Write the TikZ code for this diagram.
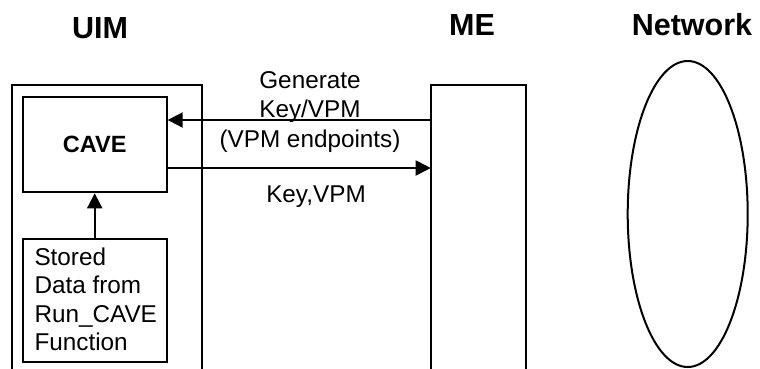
\documentclass[tikz,border=0pt]{standalone}
\usepackage{fontspec}
\setmainfont{Liberation Sans}
\usetikzlibrary{arrows.meta}
\begin{document}
\begin{tikzpicture}[x=1pt,y=-1pt,
  box/.style={draw,line width=2pt,inner sep=0pt},
  lbl/.style={font=\fontsize{24.3}{29.5}\selectfont,inner sep=0pt},
  ttl/.style={font=\fontsize{30.5}{34}\selectfont\bfseries,inner sep=0pt,anchor=base},
  arr/.style={line width=2pt,-{Triangle[length=15pt,width=15pt]}}]
\useasboundingbox (0,0) rectangle (760,368);
\begin{scope}
\clip (0,0) rectangle (760,368);
% titles
\node[ttl] (tuim) at (100,38) {UIM};
\node[ttl] (tme) at (472,35) {ME};
\node[ttl] (tnet) at (692,35) {Network};
% outer boxes (open at bottom)
\draw[line width=2pt] (11.7,380) -- (11.7,85) -- (202,85) -- (202,380);
\draw[line width=2pt] (430.7,380) -- (430.7,85) -- (526,85) -- (526,380);
\coordinate (meA) at (430.7,120);
\coordinate (meB) at (430.7,168);
% CAVE
\node[box,minimum width=144pt,minimum height=95.6pt,font=\fontsize{23.5}{28}\selectfont\bfseries] (cave) at (94.7,144.5) {CAVE};
% stored box
\node[box,minimum width=144pt,minimum height=122.7pt] (stored) at (94.7,300.4) {};
\node[lbl,anchor=north west,align=left,font=\fontsize{24.3}{28.4}\selectfont] (storedtxt) at (34.3,247.6) {Stored\\Data from\\Run\_CAVE\\Function};
% network ellipse
\draw[line width=2pt] (687.7,214) ellipse [x radius=60, y radius=153];
% arrows
\draw[arr] (stored.north) -- (cave.south);
\draw[arr] (meA) -- (cave.east |- meA);
\draw[arr] (cave.east |- meB) -- (meB);
% labels
\node[lbl,anchor=north,align=center] (lgen) at (310,71) {Generate\\Key/VPM\\(VPM endpoints)};
\node[lbl,anchor=base] (lkey) at (316,202) {Key,VPM};
\end{scope}
\end{tikzpicture}
\end{document}
